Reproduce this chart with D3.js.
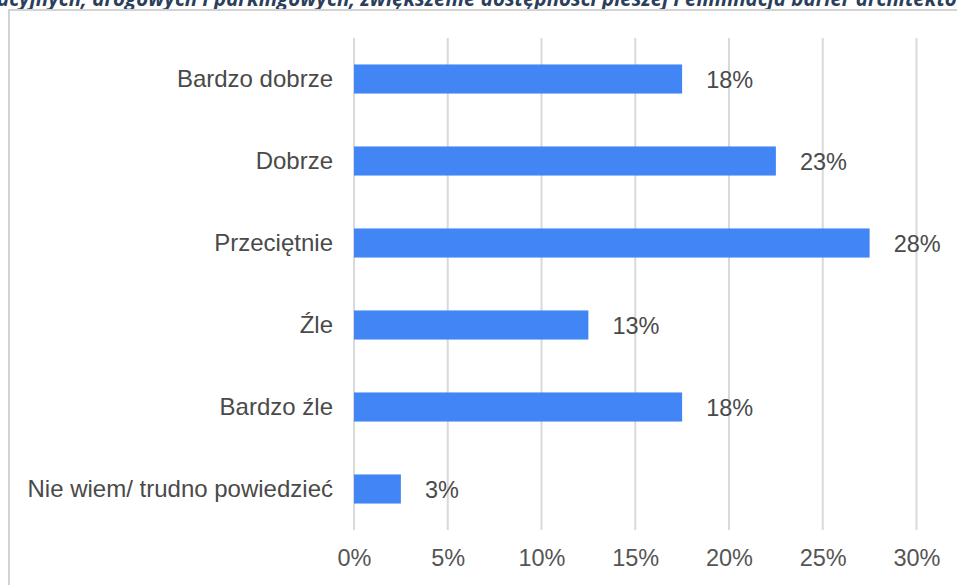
<!DOCTYPE html>
<html>
<head>
<meta charset="utf-8">
<script src="https://cdn.jsdelivr.net/npm/d3@7"></script>
<style>
  body { margin: 0; background: #fff; }
  svg { display: block; }
</style>
</head>
<body>
<svg id="drawing_region"></svg>
<script>
// data
const categories = ["Bardzo dobrze", "Dobrze", "Przeciętnie", "Źle", "Bardzo źle", "Nie wiem/ trudno powiedzieć"];
const values = [17.5, 22.5, 27.5, 12.5, 17.5, 2.5];
const tickValues = [0, 5, 10, 15, 20, 25, 30];
const titleText = "acyjnych, drogowych i parkingowych, zwiększenie dostępności pieszej i eliminacja barier architektonicznych";

const data = categories.map((c, i) => ({ category: c, value: values[i] }));

var config = {
    width: 957,
    height: 585,
    margin: {top: 38, right: 41, bottom: 55, left: 354}
};

const svg = d3.select('#drawing_region')
    .attr('width', config.width)
    .attr('height', config.height);

// cut-off title above the frame
svg.append('text')
    .attr('x', -3)
    .attr('y', 6)
    .attr('font-family', '"Open Sans", sans-serif')
    .attr('font-style', 'italic')
    .attr('font-weight', 'bold')
    .attr('font-size', '20.5px')
    .attr('fill', '#2b3f5c')
    .text(titleText);

// frame of the chart box
svg.append('path')
    .attr('d', `M9,${config.height} V10 H${config.width}`)
    .attr('fill', 'none')
    .attr('stroke', '#d3d3d3')
    .attr('stroke-width', 2);

const chart = svg.append('g')
    .attr('transform', `translate(${config.margin.left}, ${config.margin.top})`);

const inner_width = config.width - config.margin.left - config.margin.right;
const inner_height = config.height - config.margin.top - config.margin.bottom;

const xscale = d3.scaleLinear()
    .domain([0, 30])
    .range([0, 562.5]);

const yscale = d3.scaleBand()
    .domain(categories)
    .range([0, inner_height])
    .paddingInner(0.645)
    .paddingOuter(0.3225);

// grid lines
chart.append('g')
    .selectAll('line')
    .data(tickValues)
    .join('line')
    .attr('x1', d => xscale(d))
    .attr('x2', d => xscale(d))
    .attr('y1', 0)
    .attr('y2', inner_height)
    .attr('stroke', '#d9d9d9')
    .attr('stroke-width', 2);

// x axis labels
const xaxis = d3.axisBottom(xscale)
    .tickValues(tickValues)
    .tickFormat(d => d + '%')
    .tickSize(0)
    .tickPadding(0);

const xaxis_group = chart.append('g')
    .attr('transform', `translate(0, 511)`)
    .call(xaxis);
xaxis_group.select('.domain').remove();
xaxis_group.selectAll('text')
    .attr('font-family', '"Liberation Sans", Arial, sans-serif')
    .attr('font-size', '23.5px')
    .attr('fill', '#555')
    .attr('dy', '0.71em');

// y axis labels
const yaxis = d3.axisLeft(yscale)
    .tickSize(0)
    .tickPadding(21);

const yaxis_group = chart.append('g')
    .call(yaxis);
yaxis_group.select('.domain').remove();
yaxis_group.selectAll('text')
    .attr('font-family', '"Liberation Sans", Arial, sans-serif')
    .attr('font-size', '24px')
    .attr('fill', '#4a4a4a');

// bars
chart.selectAll('rect.bar')
    .data(data)
    .join('rect')
    .attr('class', 'bar')
    .attr('x', xscale(0))
    .attr('y', d => yscale(d.category))
    .attr('width', d => xscale(d.value) - xscale(0))
    .attr('height', yscale.bandwidth())
    .attr('fill', '#4285f4');

// value labels
chart.selectAll('text.value')
    .data(data)
    .join('text')
    .attr('class', 'value')
    .attr('x', d => xscale(d.value) + 24)
    .attr('y', d => yscale(d.category) + yscale.bandwidth() / 2)
    .attr('dy', '0.38em')
    .attr('font-family', '"Liberation Sans", Arial, sans-serif')
    .attr('font-size', '23.5px')
    .attr('fill', '#4a4a4a')
    .text(d => Math.round(d.value) + '%');
</script>
</body>
</html>
